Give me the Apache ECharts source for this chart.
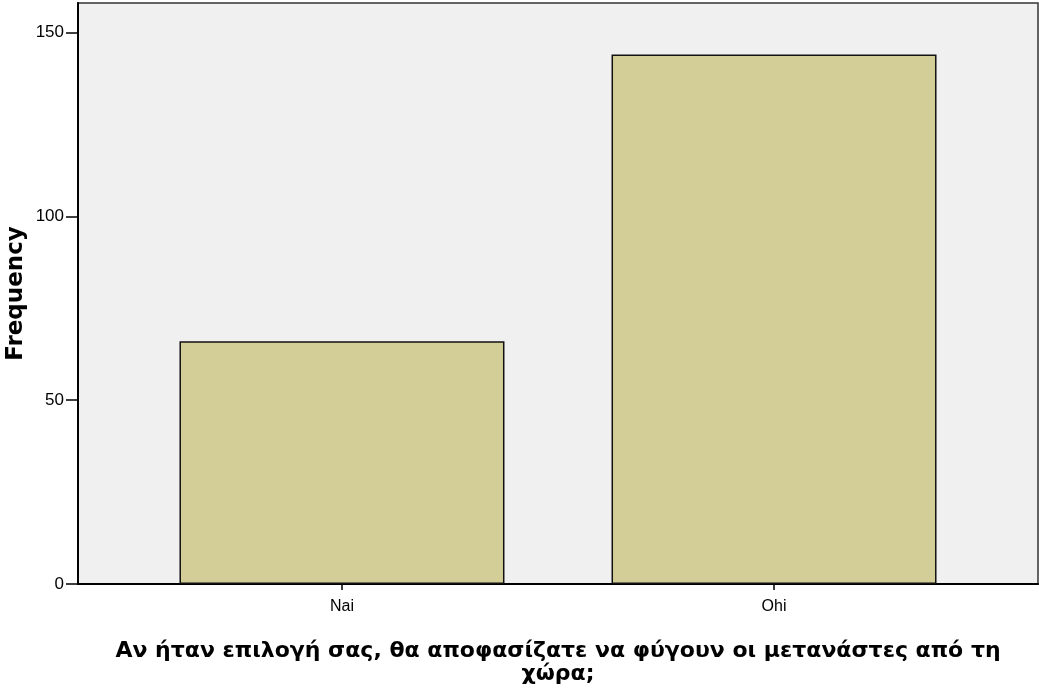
<!DOCTYPE html>
<html>
<head>
<meta charset="utf-8">
<script src="https://cdn.jsdelivr.net/npm/echarts@6/dist/echarts.min.js"></script>
<style>
html,body{margin:0;padding:0;background:#fff;}
#c{width:1039px;height:691px;}
</style>
</head>
<body>
<div id="c"></div>
<script>
const categories = ['Nai', 'Ohi'];
const frequencies = [66, 144];
const yTicks = [0, 50, 100, 150];
const xTitle = 'Αν ήταν επιλογή σας, θα αποφασίζατε να φύγουν οι μετανάστες από τη\nχώρα;';
const yTitle = 'Frequency';

const positions = categories.map((c, i) => i + 1);
const chart = echarts.init(document.getElementById('c'));
chart.setOption({
  animation: false,
  textStyle: { fontFamily: 'Liberation Sans' },
  grid: {
    left: 78, right: 1, top: 3, bottom: 107,
    outerBoundsMode: 'none',
    containLabel: false,
    show: true, backgroundColor: '#F0F0F0', borderColor: '#333', borderWidth: 1.5
  },
  xAxis: {
    type: 'value',
    min: 0.389, max: 2.611,
    splitLine: { show: false },
    axisLine: { show: true, lineStyle: { color: '#000', width: 2 } },
    axisTick: { show: true, customValues: positions, length: 6, lineStyle: { color: '#000', width: 1.5 } },
    axisLabel: {
      customValues: positions,
      formatter: v => categories[Math.round(v) - 1] || '',
      color: '#000', fontSize: 16, margin: 15, fontFamily: 'Liberation Sans'
    },
    name: xTitle,
    nameLocation: 'middle',
    nameGap: 56,
    nameMoveOverlap: false,
    nameTextStyle: { color: '#000', fontSize: 22, fontWeight: 'bold', lineHeight: 23, align: 'center', fontFamily: 'DejaVu Sans' }
  },
  yAxis: {
    type: 'value',
    min: 0, max: 158, interval: 50,
    splitLine: { show: false },
    axisLine: { show: true, lineStyle: { color: '#000', width: 2 } },
    axisTick: { show: true, customValues: yTicks, length: 12, lineStyle: { color: '#000', width: 1.5 } },
    axisLabel: {
      color: '#000', fontSize: 17, margin: 14, fontFamily: 'Liberation Sans',
      customValues: yTicks
    },
    name: yTitle,
    nameLocation: 'middle',
    nameGap: 50,
    nameMoveOverlap: false,
    nameTextStyle: { color: '#000', fontSize: 23, fontWeight: 'bold', fontFamily: 'DejaVu Sans' }
  },
  series: [{
    type: 'bar',
    data: positions.map((p, i) => [p, frequencies[i]]),
    barWidth: 325,
    itemStyle: { color: '#D3CE97', borderColor: '#111', borderWidth: 1.5 }
  }]
});
</script>
</body>
</html>
